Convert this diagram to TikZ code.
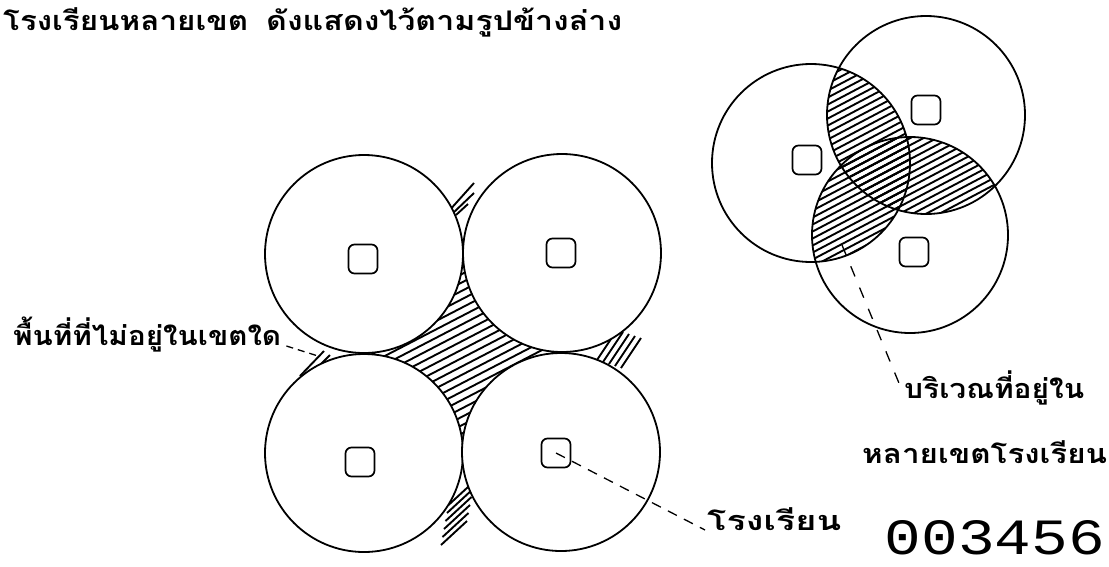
\documentclass[tikz,border=0pt]{standalone}
\usepackage{fontspec}
\usepackage{graphicx}
\usetikzlibrary{calc}
\newfontfamily\thai[Script=Thai]{Loma}
\newfontfamily\digitfont{Liberation Mono}
\newcommand\fitw[2]{\resizebox{#1}{\height}{#2}}
\tikzset{
  zone/.style={circle, draw, line width=1.8pt, minimum size=198pt, inner sep=0pt, fill=white},
  zoneopen/.style={circle, draw, line width=1.8pt, minimum size=198pt, inner sep=0pt},
  school/.style={rectangle, draw, line width=1.7pt, rounded corners=6pt, minimum size=29pt, inner sep=0pt, fill=white},
  hatchline/.style={line width=1.9pt},
  leader/.style={line width=1.3pt, dash pattern=on 10pt off 8pt},
  thtext/.style={inner sep=0pt, anchor=base west, font=\thai\bfseries\fontsize{27}{27}\selectfont},
}
\begin{document}
\begin{tikzpicture}[x=1pt,y=-1pt]
\useasboundingbox (0,0) rectangle (1109,566);
\fill[white] (0,0) rectangle (1109,566);

% ---------- texts ----------
\node[thtext] (t1) at (3,30) {\fitw{245pt}{โรงเรียนหลายเขต}};
\node[thtext] (t2) at (266,30) {\fitw{356pt}{ดังแสดงไว้ตามรูปข้างล่าง}};
\node[thtext] (lblnone) at (13,345) {\fitw{268pt}{พื้นที่ที่ไม่อยู่ในเขตใด}};
\node[thtext] (lblmulti1) at (904,398) {\fitw{180pt}{บริเวณที่อยู่ใน}};
\node[thtext] (lblmulti2) at (862,463) {\fitw{245pt}{หลายเขตโรงเรียน}};
\node[thtext] (lblschool) at (707,530) {\fitw{134pt}{โรงเรียน}};
\node[inner sep=0pt, anchor=south east] (num) at (1105,555) {\resizebox{220pt}{34pt}{\digitfont 003456}};

% ---------- left group: hatching ----------
\begin{scope}
  \clip (364,254) -- (562,253) -- (561,452) -- (364,453) -- cycle;
  \foreach \k in {-3,...,40} \draw[hatchline] (330,250+\k*8.4) -- ++(270,-140);
\end{scope}
% top gap
\draw[hatchline] (448,212) -- (474,183);
\draw[hatchline] (452,214) -- (474,193);
\draw[hatchline] (456,215) -- (468,204);
% right gap
\foreach \k in {0,...,4} \draw[hatchline] (597+6*\k,360+2*\k) -- ++(20,-30);
% bottom gap
\foreach \k in {0,...,5} \draw[hatchline] (441+1.5*\k,545-8*\k) -- ++(26,-24);
% left gap
\draw[hatchline] (300,376) -- (324,351);
\draw[hatchline] (308,377) -- (330,355);
\draw[hatchline] (317,377) -- (334,360);

% ---------- left group: circles and schools ----------
\node[zone] (ztl) at (364,254) {};
\node[zone] (ztr) at (562,253) {};
\node[zone] (zbl) at (364,453) {};
\node[zone] (zbr) at (561,452) {};
\node[school] (stl) at (363,259) {};
\node[school] (str) at (561,253) {};
\node[school] (sbl) at (360,462) {};
\node[school] (sbr) at (556,453) {};

% ---------- right group: hatching of overlaps ----------
\begin{scope}
  \clip (811,163) circle[radius=99pt];
  \clip (926,115) circle[radius=99pt];
  \foreach \k in {0,...,45} \draw[hatchline] (730,30+\k*7) -- ++(300,-158);
\end{scope}
\begin{scope}
  \clip (811,163) circle[radius=99pt];
  \clip (910,235) circle[radius=98pt];
  \foreach \k in {0,...,45} \draw[hatchline] (730,30+\k*7) -- ++(300,-158);
\end{scope}
\begin{scope}
  \clip (926,115) circle[radius=99pt];
  \clip (910,235) circle[radius=98pt];
  \foreach \k in {0,...,45} \draw[hatchline] (730,30+\k*7) -- ++(300,-158);
\end{scope}

\node[zoneopen] (zl) at (811,163) {};
\node[zoneopen] (zt) at (926,115) {};
\node[zoneopen, minimum size=196pt] (zb) at (910,235) {};
\node[school] (sl) at (807,160) {};
\node[school] (st) at (926,110) {};
\node[school] (sb) at (914,252) {};

% ---------- leaders ----------
\coordinate (pnone) at (318,356);
\draw[leader, dash pattern=on 7pt off 5pt] ($(lblnone.base east)+(5,1)$) -- (pnone);
\coordinate (pmulti) at (842,245);
\draw[leader, dash pattern=on 11pt off 12pt] (pmulti) -- ($(lblmulti1.base west)+(-3,-10)$);
\draw[leader] (sbr.center) -- ($(lblschool.base west)+(-2,0)$);
\end{tikzpicture}
\end{document}
